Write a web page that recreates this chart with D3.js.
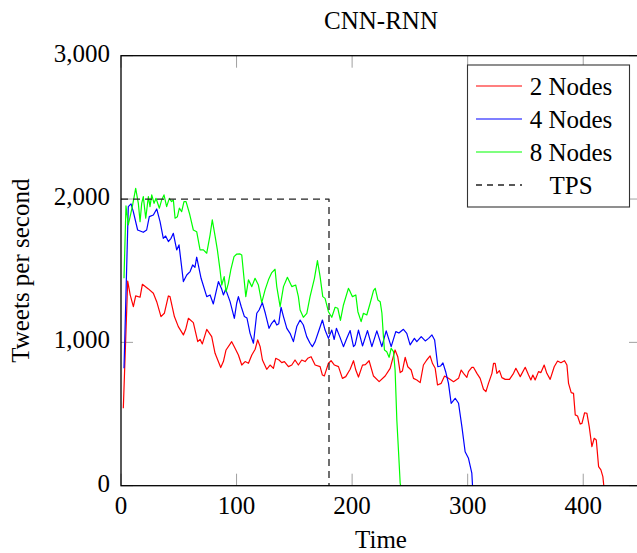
<!DOCTYPE html>
<html>
<head>
<meta charset="utf-8">
<script src="https://cdn.jsdelivr.net/npm/d3@7"></script>
<style>
  body { margin: 0; background: #fff; }
</style>
</head>
<body>
<div class="graphContainer"></div>
<script>
var width = 637;
var height = 553;
var fontFamily = "'Liberation Serif', 'Times New Roman', 'DejaVu Serif', serif";

var title = "CNN-RNN";
var xTicks = [0, 100, 200, 300, 400];
var yTicks = [0, 1000, 2000, 3000];
var seriesNames = ["2 Nodes", "4 Nodes", "8 Nodes", "TPS"];
var colours = ["#ff0000", "#0000ff", "#00ff00", "#222222"];

// 2 nodes
var nodes2Time = [2, 5.8, 8, 10.7, 12.7, 16.5, 18.5, 23.7, 28, 30.9, 34.6, 37.5, 41, 42.4, 46.2, 49.6, 54, 56, 58.3, 62.6,
  66.4, 68.4, 70.4, 74.2, 78.5, 81.4, 86.3, 88.6, 90.9, 95.8, 98.7, 101.6, 104.5, 107.4, 110.3, 113.2, 116.1, 118.3, 120.4, 122.4,
  126.1, 129, 131.9, 133.9, 136.8, 139.1, 141.4, 144.9, 147.8, 150.6, 153.5, 156.4, 159.3, 161.6, 164.5, 168, 172.3, 174.3, 176, 179.5,
  181.8, 184.7, 188.2, 191.6, 194.5, 198.3, 201.2, 203.2, 205.5, 209, 211.5, 214.7, 218.5, 223.4, 228.6, 232.9, 237.2, 239.5, 241.6, 243.5,
  245.9, 248.2, 251.1, 253.1, 256, 258.9, 261.7, 264.6, 267.5, 269.6, 271.9, 273.9, 277.1, 280, 283.4, 287.8, 292.1, 294.4, 296.4, 299.3,
  300.7, 303.6, 305, 308, 310.8, 313.7, 315.8, 318, 321, 322.4, 323.8, 325.3, 327.5, 329.6, 332.5, 336.2, 339.7, 341.7, 345.5, 349.8,
  352.7, 354.7, 356.4, 358.4, 361.3, 363.4, 366.2, 368.5, 371.4, 374.9, 377.8, 380.7, 383.8, 385.9, 387.3, 389.6, 391.6, 393.1, 395.1, 397.4,
  398.9, 401.2, 403.2, 405.2, 407.5, 409.5, 411.3, 413.3, 415.3, 417, 417.8];
var nodes2Tps = [540, 1428, 1330, 1249, 1324, 1315, 1405, 1373, 1343, 1284, 1180, 1203, 1324, 1319, 1180, 1110, 1052, 1091, 1168, 1138,
  1005, 1021, 989, 1091, 1040, 924, 824, 866, 947, 1005, 959, 912, 842, 866, 854, 912, 952, 1017, 970, 877,
  812, 842, 819, 889, 877, 859, 866, 831, 842, 877, 842, 877, 866, 889, 900, 842, 831, 772, 766, 854,
  872, 842, 831, 749, 761, 812, 872, 807, 758, 841, 845, 872, 765, 726, 765, 819, 947, 900, 789, 800,
  896, 830, 807, 749, 738, 719, 842, 877, 905, 852, 819, 703, 714, 765, 749, 726, 749, 807, 784, 756,
  796, 826, 826, 784, 749, 673, 656, 714, 784, 854, 854, 784, 803, 754, 742, 742, 784, 819, 761, 826,
  772, 738, 772, 738, 796, 789, 842, 784, 742, 830, 870, 858, 872, 842, 714, 649, 644, 494, 486, 430,
  435, 509, 505, 412, 272, 331, 319, 133, 110, 63, 0];

// 4 nodes
var nodes4Time = [2.6, 6.3, 8.7, 10.7, 14.4, 19.3, 22.2, 24.5, 28, 30.9, 33.8, 36.6, 38.6, 41, 43.3, 45.3, 48.2, 50.2, 54, 56.9,
  59.8, 62, 64, 65.5, 69.3, 74.2, 77.1, 79.9, 84.3, 87.2, 88.6, 90.6, 94.4, 98.1, 100.1, 101.6, 104, 106.8, 109, 111.7,
  114.6, 117.5, 119.5, 122.3, 124.9, 128.1, 130.4, 132.7, 134.8, 136.5, 138.5, 140.6, 143.5, 146.3, 149.2, 152.1, 155, 157.8, 160.7, 163.6,
  165.6, 168, 171.4, 174.3, 176.6, 179.5, 182.4, 184.5, 186.4, 189.3, 192.5, 195.5, 198.3, 201.2, 202.6, 205.5, 209, 213.3, 217.1, 221.4,
  225.7, 229.5, 233.8, 237.8, 240.5, 244.4, 247.3, 250.2, 253.9, 256, 259.8, 263.3, 266.2, 269.1, 271.4, 274.2, 276.5, 278.6, 280.9, 283.4,
  285.7, 289.2, 292.1, 295, 297.8, 300.7, 303.6, 304.2];
var nodes4Tps = [819, 1947, 1966, 1910, 1784, 1768, 1784, 1877, 1889, 1931, 1842, 1726, 1742, 1703, 1726, 1761, 1645, 1680, 1424, 1470,
  1494, 1540, 1524, 1594, 1447, 1319, 1331, 1268, 1424, 1370, 1331, 1370, 1284, 1168, 1273, 1319, 1250, 1180, 1170, 1063,
  994, 1203, 1226, 1277, 1203, 1098, 1133, 1156, 1121, 1130, 1245, 1180, 1098, 1063, 1005, 1110, 1156, 1121, 1040, 994,
  970, 1005, 1086, 1156, 1086, 1028, 1086, 1020, 1098, 1040, 970, 1030, 1082, 970, 982, 1086, 975, 1082, 970, 1080,
  970, 1080, 970, 1075, 1065, 1091, 1063, 982, 1028, 1005, 1040, 1010, 1028, 1052, 1017, 830, 835, 857, 797, 714,
  575, 610, 575, 412, 237, 191, 87, 0];

// 8 nodes
var nodes8Time = [2.6, 4.3, 6.3, 9.8, 12.7, 15, 16.5, 17.9, 19.3, 21.4, 23.7, 25.1, 26.6, 28.6, 30.3, 33.2, 35.2, 37.2, 39.5, 41.8,
  43.8, 45.3, 46.8, 48.8, 50.5, 52.5, 54.5, 56.3, 59.2, 62.6, 65.5, 68.4, 71.3, 74.2, 77.1, 79, 81.5, 83.4, 85.7, 87.2,
  89.3, 90.9, 92.9, 95, 97.8, 100, 103, 104.5, 108, 110.3, 113.2, 116, 118.9, 121.8, 124.7, 127.6, 130.5, 133.3, 134.8, 137.7,
  140.6, 144, 147.8, 151.2, 153.5, 155, 157.8, 160.8, 163.6, 167.4, 170, 172.3, 174.6, 176.6, 179.5, 182.4, 185.3, 187.6, 189.9, 192.5,
  196.8, 198.3, 200.3, 203.2, 205, 207.8, 209.8, 212.7, 215.6, 218.5, 220, 222.3, 224.3, 225.8, 227.1, 228, 230, 232, 233.8, 235.8,
  237.2, 238.7, 240.1, 241.6, 242];
var nodes8Tps = [1447, 1952, 1819, 1947, 2075, 1970, 1842, 1970, 2017, 1866, 2017, 1947, 2029, 1970, 2005, 1936, 1994, 2029, 1947, 2005,
  1982, 1994, 1866, 1877, 1936, 1912, 1982, 1982, 1901, 1784, 1772, 1645, 1645, 1622, 1750, 1854, 1738, 1645, 1505, 1400,
  1459, 1354, 1412, 1505, 1598, 1615, 1617, 1610, 1319, 1436, 1389, 1447, 1400, 1277, 1366, 1436, 1487, 1510, 1389, 1249,
  1389, 1454, 1389, 1400, 1319, 1226, 1175, 1203, 1319, 1447, 1570, 1459, 1319, 1307, 1214, 1175, 1245, 1238, 1154, 1261,
  1377, 1354, 1319, 1331, 1214, 1145, 1203, 1191, 1273, 1361, 1377, 1296, 1284, 1203, 1040, 947, 935, 896, 959, 935,
  807, 458, 249, 17, 0];

// TPS limit
var tpsTime = [0, 180, 180];
var tpsValue = [2000, 2000, 0];

var svgContainer = d3
  .select(".graphContainer")
  .append("svg")
  .attr("width", width)
  .attr("height", height)
  .style("font-family", fontFamily);

var xScale = d3.scaleLinear().domain([0, 450]).range([121, 641]);
var yScale = d3.scaleLinear().domain([0, 3000]).range([485.7, 55.7]);
var tickLen = 12;

// ticks on all four sides
var tickGroup = svgContainer.append("g").attr("stroke", "#a0a0a0").attr("stroke-width", 1);

xTicks.forEach(function (t) {
  tickGroup.append("line").attr("x1", xScale(t)).attr("x2", xScale(t))
    .attr("y1", yScale(0)).attr("y2", yScale(0) - tickLen);
  tickGroup.append("line").attr("x1", xScale(t)).attr("x2", xScale(t))
    .attr("y1", yScale(3000)).attr("y2", yScale(3000) + tickLen);
});
yTicks.forEach(function (v) {
  tickGroup.append("line").attr("x1", xScale(0)).attr("x2", xScale(0) + tickLen)
    .attr("y1", yScale(v)).attr("y2", yScale(v));
  tickGroup.append("line").attr("x1", xScale(450)).attr("x2", xScale(450) - tickLen)
    .attr("y1", yScale(v)).attr("y2", yScale(v));
});

// series
var line = d3.line()
  .x(function (d) { return xScale(d[0]); })
  .y(function (d) { return yScale(d[1]); });

var series = [
  d3.zip(nodes2Time, nodes2Tps),
  d3.zip(nodes4Time, nodes4Tps),
  d3.zip(nodes8Time, nodes8Tps),
  d3.zip(tpsTime, tpsValue)
];

series.forEach(function (s, i) {
  svgContainer.append("path")
    .datum(s)
    .attr("d", line)
    .attr("fill", "none")
    .attr("stroke", colours[i])
    .attr("stroke-width", i == 3 ? 1.3 : 1.2)
    .attr("stroke-dasharray", i == 3 ? "7,5" : null)
    .attr("stroke-linejoin", "round");
});

// frame
svgContainer.append("rect")
  .attr("x", xScale(0))
  .attr("y", yScale(3000))
  .attr("width", xScale(450) - xScale(0))
  .attr("height", yScale(0) - yScale(3000))
  .attr("fill", "none")
  .attr("stroke", "#000")
  .attr("stroke-width", 1.3);

// tick labels
svgContainer.append("g").selectAll("text")
  .data(xTicks)
  .enter()
  .append("text")
  .attr("x", function (d) { return xScale(d); })
  .attr("y", 514)
  .attr("text-anchor", "middle")
  .style("font-family", fontFamily)
  .style("font-size", "25px")
  .text(function (d) { return d; });

svgContainer.append("g").selectAll("text")
  .data(yTicks)
  .enter()
  .append("text")
  .attr("x", 110)
  .attr("y", function (d) { return yScale(d) + 6; })
  .attr("text-anchor", "end")
  .style("font-family", fontFamily)
  .style("font-size", "25px")
  .text(function (d) { return d3.format(",")(d); });

// titles
svgContainer.append("text")
  .attr("x", (xScale(0) + xScale(450)) / 2)
  .attr("y", 29)
  .attr("text-anchor", "middle")
  .style("font-family", fontFamily)
  .style("font-size", "25px")
  .text(title);

svgContainer.append("text")
  .attr("x", (xScale(0) + xScale(450)) / 2)
  .attr("y", 548)
  .attr("text-anchor", "middle")
  .style("font-family", fontFamily)
  .style("font-size", "25px")
  .text("Time");

svgContainer.append("text")
  .attr("transform", "translate(29," + (yScale(1500)) + ") rotate(-90)")
  .attr("text-anchor", "middle")
  .style("font-family", fontFamily)
  .style("font-size", "25px")
  .text("Tweets per second");

// legend
var legendContainer = svgContainer.append("g").attr("id", "legend");

legendContainer.append("rect")
  .attr("x", 467.5)
  .attr("y", 65)
  .attr("width", 162)
  .attr("height", 142)
  .attr("fill", "#fff")
  .attr("stroke", "#333")
  .attr("stroke-width", 1.1);

seriesNames.forEach(function (name, i) {
  var ly = 86 + i * 33;
  legendContainer.append("line")
    .attr("x1", 476).attr("x2", 522)
    .attr("y1", ly).attr("y2", ly)
    .attr("stroke", colours[i])
    .attr("stroke-width", i == 3 ? 1.3 : 1.2)
    .attr("stroke-dasharray", i == 3 ? "6,5" : null);
  legendContainer.append("text")
    .attr("x", 571)
    .attr("y", ly + 9)
    .attr("text-anchor", "middle")
    .style("font-family", fontFamily)
    .style("font-size", "25px")
    .text(name);
});
</script>
</body>
</html>
